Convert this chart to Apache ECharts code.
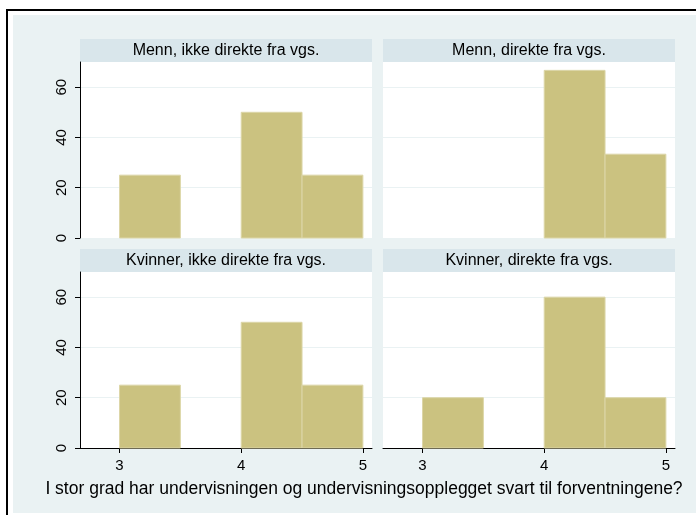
<!DOCTYPE html>
<html>
<head>
<meta charset="utf-8">
<script src="https://cdn.jsdelivr.net/npm/echarts@6/dist/echarts.min.js"></script>
<style>
  html, body { margin: 0; padding: 0; background: #fff; }
  #chart { width: 696px; height: 515px; }
</style>
</head>
<body>
<div id="chart"></div>
<script>
// paneler: menn/kvinner x ikke direkte/direkte fra vgs
const panelTitles = [
	'Menn, ikke direkte fra vgs.',
	'Menn, direkte fra vgs.',
	'Kvinner, ikke direkte fra vgs.',
	'Kvinner, direkte fra vgs.'
];
// histogram, bredde 0.5 fra 3
const binStarts = [3, 3.5, 4, 4.5];
const binWidth = 0.5;
const mennIkke = [25, 0, 50, 25];
const mennDirekte = [0, 0, 66.67, 33.33];
const kvinnerIkke = [25, 0, 50, 25];
const kvinnerDirekte = [20, 0, 60, 20];
const panelValues = [mennIkke, mennDirekte, kvinnerIkke, kvinnerDirekte];

const yTicks = [0, 20, 40, 60];
const xTicks = [3, 4, 5];
const xTitle = 'I stor grad har undervisningen og undervisningsopplegget svart til forventningene?';

const font = '"Liberation Sans", Arial, sans-serif';
const gridPos = [
	{ left: 80, top: 62 },
	{ left: 383, top: 62 },
	{ left: 80, top: 272 },
	{ left: 383, top: 272 }
];
const gw = 292, gh = 176;

let chart = echarts.init(document.getElementById('chart'));

let grids = gridPos.map(p => ({ left: p.left, top: p.top, width: gw, height: gh, backgroundColor: '#fff', show: true, borderWidth: 0 }));

let xAxes = gridPos.map((p, i) => {
	let bottomRow = i >= 2;
	return {
		type: 'value', gridIndex: i, min: 2.675, max: 5.075,
		axisLine: { show: bottomRow, onZero: false, lineStyle: { color: '#000', width: 1 } },
		axisTick: { show: bottomRow, length: 5, customValues: xTicks, lineStyle: { color: '#000' } },
		axisLabel: { show: bottomRow, customValues: xTicks, margin: 10, fontSize: 15, color: '#000', fontFamily: font },
		splitLine: { show: false }
	};
});

let yAxes = gridPos.map((p, i) => {
	let leftCol = i % 2 == 0;
	return {
		type: 'value', gridIndex: i, min: 0, max: 70, interval: 20,
		axisLine: { show: leftCol, lineStyle: { color: '#000', width: 1 } },
		axisTick: { show: leftCol, length: 5, customValues: yTicks, lineStyle: { color: '#000' } },
		axisLabel: { show: leftCol, customValues: yTicks, rotate: 90, margin: 11, fontSize: 15, color: '#000', fontFamily: font },
		splitLine: { show: true, lineStyle: { color: '#eaf2f3', width: 1 } }
	};
});

let series = panelValues.map((vals, i) => ({
	type: 'custom',
	xAxisIndex: i,
	yAxisIndex: i,
	data: vals.map((v, k) => [binStarts[k], binStarts[k] + binWidth, v]),
	renderItem: function (params, api) {
		let v = api.value(2);
		if (!v) return;
		let p0 = api.coord([api.value(0), v]);
		let p1 = api.coord([api.value(1), 0]);
		return {
			type: 'rect',
			shape: { x: p0[0], y: p0[1], width: p1[0] - p0[0], height: p1[1] - p0[1] },
			style: { fill: '#cbc280', stroke: '#dcd6a8', lineWidth: 1 }
		};
	}
}));

let graphics = [
	{ type: 'rect', z: -10, shape: { x: 7, y: 10, width: 720, height: 600 }, style: { fill: '#fff', stroke: '#000', lineWidth: 2 } },
	{ type: 'rect', z: -9, shape: { x: 13, y: 15, width: 690, height: 498 }, style: { fill: '#eaf2f3' } }
];
gridPos.forEach((p, i) => {
	graphics.push({ type: 'rect', z: -8, shape: { x: p.left, y: p.top - 23, width: gw, height: 23 }, style: { fill: '#d9e6eb' } });
	graphics.push({ type: 'text', z: 10, x: p.left + gw / 2, y: p.top - 11,
		style: { text: panelTitles[i], fill: '#000', font: '16px ' + font, align: 'center', verticalAlign: 'middle' } });
});
graphics.push({ type: 'text', z: 10, x: 364, y: 489,
	style: { text: xTitle, fill: '#000', font: '17.5px ' + font, align: 'center', verticalAlign: 'middle' } });

let option = {
	animation: false,
	backgroundColor: '#fff',
	grid: grids,
	xAxis: xAxes,
	yAxis: yAxes,
	series: series,
	graphic: graphics
};
chart.setOption(option);
</script>
</body>
</html>
